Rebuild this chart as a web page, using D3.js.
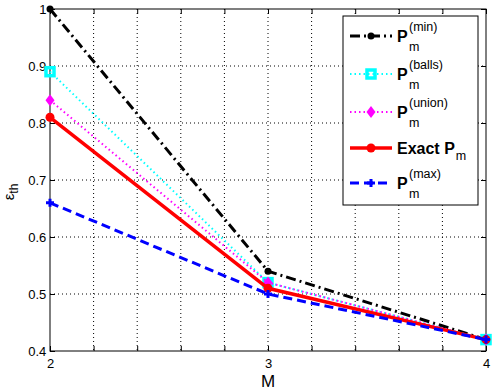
<!DOCTYPE html>
<html><head><meta charset="utf-8">
<script src="https://cdn.jsdelivr.net/npm/d3@7"></script>
<style>body{margin:0;background:#fff}svg{display:block;font-family:"Liberation Sans",Arial,sans-serif}</style>
</head><body><svg id="c" width="495" height="391"></svg>
<script>
const M = [2, 3, 4];
const pMin = [1.0, 0.54, 0.42];
const pBalls = [0.89, 0.52, 0.42];
const pUnion = [0.84, 0.52, 0.42];
const pExact = [0.81, 0.51, 0.42];
const pMax = [0.66, 0.50, 0.42];
const xTicks = [2, 2.2, 2.4, 2.6, 2.8, 3, 3.2, 3.4, 3.6, 3.8, 4];
const xLabels = [2, 3, 4];
const yTicks = [0.4, 0.5, 0.6, 0.7, 0.8, 0.9, 1];

const svg = d3.select("#c");
const L = 50, R = 486, T = 9, B = 351;
const x = d3.scaleLinear().domain([2, 4]).range([L, R]);
const y = d3.scaleLinear().domain([0.4, 1]).range([B, T]);

// grid
const g = svg.append("g");
g.selectAll("line.vx").data(xTicks.slice(1, -1)).join("line")
  .attr("x1", d => x(d)).attr("x2", d => x(d)).attr("y1", T).attr("y2", B)
  .attr("stroke", "#000").attr("stroke-width", 1).attr("stroke-dasharray", "1,3");
g.selectAll("line.hy").data(yTicks.slice(1, -1)).join("line")
  .attr("y1", d => y(d)).attr("y2", d => y(d)).attr("x1", L).attr("x2", R)
  .attr("stroke", "#000").attr("stroke-width", 1).attr("stroke-dasharray", "1,3");

// axes
const ax = svg.append("g").attr("transform", `translate(0,${B})`)
  .call(d3.axisBottom(x).tickValues(xTicks).tickSize(-5).tickFormat(d => xLabels.includes(d) ? d : ""));
const axT = svg.append("g").attr("transform", `translate(0,${T})`)
  .call(d3.axisTop(x).tickValues(xTicks).tickSize(-5).tickFormat(""));
const ay = svg.append("g").attr("transform", `translate(${L},0)`)
  .call(d3.axisLeft(y).tickValues(yTicks).tickSize(-5).tickFormat(d => d === 1 ? "1" : d3.format(".1f")(d)));
const ayR = svg.append("g").attr("transform", `translate(${R},0)`)
  .call(d3.axisRight(y).tickValues(yTicks).tickSize(-5).tickFormat(""));
[ax, axT, ay, ayR].forEach(a => {
  a.select(".domain").remove();
  a.selectAll("line").attr("stroke", "#000");
  a.selectAll("text").attr("font-size", 13).attr("fill", "#000").attr("font-family", "Liberation Sans, Arial, sans-serif");
});
ax.selectAll("text").attr("dy", "1.1em");
ay.selectAll("text").attr("dx", "-0.05em");
svg.append("rect").attr("x", L).attr("y", T).attr("width", R - L).attr("height", B - T)
  .attr("fill", "none").attr("stroke", "#000").attr("stroke-width", 1);

const series = [
  {v: pMin, color: "#000", w: 3, dash: "10,4,2,4", marker: "dot", sup: "(min)"},
  {v: pBalls, color: "#00ffff", w: 2, dash: "1.5,3", marker: "square", sup: "(balls)"},
  {v: pUnion, color: "#ff00ff", w: 2, dash: "1.5,3", marker: "diamond", sup: "(union)"},
  {v: pExact, color: "#ff0000", w: 3.5, dash: null, marker: "circle", sup: null},
  {v: pMax, color: "#0000ff", w: 3, dash: "9,5", marker: "plus", sup: "(max)"}
];

const line = d3.line().x((d, i) => x(M[i])).y(d => y(d));
function drawMarker(sel, type, color, cx, cy) {
  if (type === "dot") sel.append("circle").attr("cx", cx).attr("cy", cy).attr("r", 3.5).attr("fill", color);
  if (type === "square") sel.append("rect").attr("x", cx - 4).attr("y", cy - 4).attr("width", 8).attr("height", 8).attr("fill", "none").attr("stroke", color).attr("stroke-width", 3.5);
  if (type === "diamond") sel.append("path").attr("d", `M${cx},${cy-6}L${cx+4.5},${cy}L${cx},${cy+6}L${cx-4.5},${cy}Z`).attr("fill", color);
  if (type === "circle") sel.append("circle").attr("cx", cx).attr("cy", cy).attr("r", 4.5).attr("fill", color);
  if (type === "plus") sel.append("path").attr("d", `M${cx-4},${cy}H${cx+4}M${cx},${cy-4}V${cy+4}`).attr("stroke", color).attr("stroke-width", 3);
}
series.forEach(s => {
  const p = svg.append("path").datum(s.v).attr("d", line).attr("fill", "none")
    .attr("stroke", s.color).attr("stroke-width", s.w);
  if (s.dash) p.attr("stroke-dasharray", s.dash);
  const mg = svg.append("g");
  s.v.forEach((d, i) => drawMarker(mg, s.marker, s.color, x(M[i]), y(d)));
});

// legend
const lg = svg.append("g");
lg.append("rect").attr("x", 343).attr("y", 16).attr("width", 135).attr("height", 189)
  .attr("fill", "#fff").attr("stroke", "#000").attr("stroke-width", 1);
const rowsY = [36, 74, 112, 148, 183];
series.forEach((s, i) => {
  const ry = rowsY[i];
  const p = lg.append("line").attr("x1", 350).attr("x2", 392).attr("y1", ry).attr("y2", ry)
    .attr("stroke", s.color).attr("stroke-width", s.w);
  if (s.dash) p.attr("stroke-dasharray", s.dash);
  drawMarker(lg, s.marker, s.color, 371, ry);
  const t = lg.append("text").attr("x", 397).attr("y", ry + 6).attr("font-size", 16).attr("font-weight", "bold").attr("fill", "#000");
  if (s.sup) {
    t.append("tspan").text("P");
    t.append("tspan").attr("x", 409).attr("dy", -11).attr("font-size", 12.5).attr("font-weight", "normal").text(s.sup);
    t.append("tspan").attr("x", 409).attr("dy", 20).attr("font-size", 12.5).attr("font-weight", "normal").text("m");
  } else {
    t.append("tspan").text("Exact P");
    t.append("tspan").attr("dy", 6).attr("dx", 1).attr("font-size", 12.5).attr("font-weight", "normal").text("m");
  }
});

// axis labels
svg.append("text").attr("x", 268).attr("y", 387).attr("text-anchor", "middle")
  .attr("font-size", 17).attr("fill", "#000").text("M");
const yl = svg.append("text").attr("transform", "translate(14,192) rotate(-90)").attr("text-anchor", "middle")
  .attr("font-size", 15).attr("fill", "#000");
yl.append("tspan").text("ε");
yl.append("tspan").attr("dy", 4).attr("font-size", 12).text("th");
</script></body></html>
